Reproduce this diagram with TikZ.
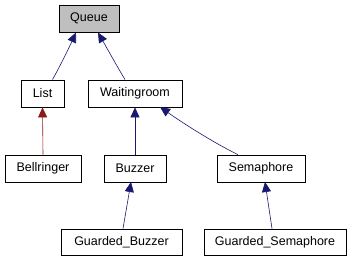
\documentclass[tikz,border=0pt]{standalone}
\usepackage{fontspec}
\setmainfont{Liberation Sans}
\usetikzlibrary{arrows.meta}
\definecolor{navy}{HTML}{191970}
\definecolor{fire}{HTML}{8B1A1A}
\begin{document}
\begin{tikzpicture}[x=1pt,y=-1pt,
  cls/.style={draw=black,line width=0.8pt,rectangle,minimum height=27pt,inner sep=0pt,font=\fontsize{12.5}{14}\selectfont},
  inh/.style={draw=navy,line width=0.6pt,-{Triangle[length=10pt,width=9pt,fill=navy]}},
  priv/.style={draw=fire,line width=0.6pt,-{Triangle[length=10pt,width=9pt,fill=fire]}}]
\useasboundingbox (0,0) rectangle (352,261);
\node[cls,fill=black!25,minimum width=60pt] (queue) at (89,18.5) {Queue};
\node[cls,minimum width=43pt] (list) at (42.5,93.5) {List};
\node[cls,minimum width=94pt] (wait) at (135,93.5) {Waitingroom};
\node[cls,minimum width=76pt] (bell) at (43,168.5) {Bellringer};
\node[cls,minimum width=62pt] (buzz) at (135,168.5) {Buzzer};
\node[cls,minimum width=88pt] (sema) at (261,168.5) {Semaphore};
\node[cls,minimum width=121pt,minimum height=26pt] (gbuzz) at (121.5,242) {Guarded\_Buzzer};
\node[cls,minimum width=142pt,minimum height=26pt] (gsema) at (275,242) {Guarded\_Semaphore};
\draw[inh] (list.north) ++(10,0) .. controls (59,68) and (68,50) .. (76,32.5);
\draw[inh] (wait.north) ++(-10,0) .. controls (118,68) and (108,50) .. (98,32.5);
\draw[priv] (bell.north) -- (list.south);
\draw[inh] (buzz.north) -- (wait.south);
\draw[inh] (sema.north) ++(-23,0) .. controls (220,146) and (190,128) .. (160,107);
\draw[inh] (gbuzz.north) ++(1.5,0) -- (131,182);
\draw[inh] (gsema.north) ++(-3,0) -- (265,182);
\end{tikzpicture}
\end{document}
